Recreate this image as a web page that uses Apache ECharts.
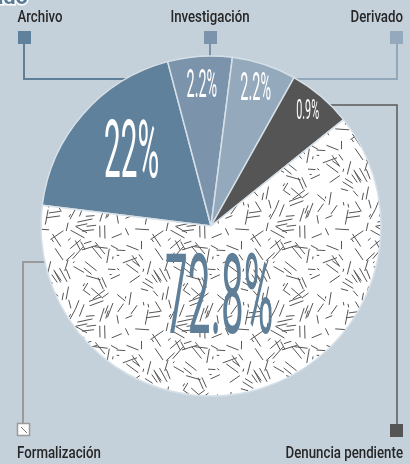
<!DOCTYPE html>
<html>
<head>
<meta charset="utf-8">
<script src="https://cdn.jsdelivr.net/npm/echarts@6/dist/echarts.min.js"></script>
<style>
html,body{margin:0;padding:0;background:#c4d0da;}
#chart{width:410px;height:464px;}
</style>
</head>
<body>
<div id="chart"></div>
<script>
// ---- data ----
const categories = ['Archivo', 'Investigación', 'Derivado', 'Denuncia pendiente', 'Formalización'];
const values = [22, 2.2, 2.2, 0.9, 72.8];
const valueLabels = ['22%', '2.2%', '2.2%', '0.9%', '72.8%'];
const titleText = 'Estado';

// ---- styles ----
const sliceColors = ['#60819b', '#7b94ab', '#95a9bc', '#555555', null];
const labelColors = ['#ffffff', '#ffffff', '#ffffff', '#ffffff', '#5f7f99'];
const labelSizes = [80, 39, 39, 27, 112];
const labelScaleX = [0.37, 0.37, 0.37, 0.4, 0.36];
const labelRadial = [0.62, 0.82, 0.84, 0.88, 0.47];
const labelAngleNudge = [0, 0, 0, 0, 10]; // degrees, clockwise

function makePattern() {
  const S = 100;
  const c = document.createElement('canvas');
  c.width = S; c.height = S;
  const g = c.getContext('2d');
  g.fillStyle = '#ffffff';
  g.fillRect(0, 0, S, S);
  g.strokeStyle = '#555555';
  g.lineWidth = 1;
  g.lineCap = 'butt';
  let seed = 987654;
  const rnd = () => { seed = (seed * 16807) % 2147483647; return seed / 2147483647; };
  const cells = 8;
  const step = S / cells;
  for (let gx = 0; gx < cells; gx++) {
    for (let gy = 0; gy < cells; gy++) {
      const cx = (gx + 0.5 + (rnd() - 0.5) * 0.8) * step;
      const cy = (gy + 0.5 + (rnd() - 0.5) * 0.8) * step;
      const a = rnd() * Math.PI;
      const n = rnd() < 0.5 ? 1 : 2;
      for (let k = 0; k < n; k++) {
        const len = rnd() < 0.15 ? 2 + rnd() * 2 : 7 + rnd() * 9;
        const off = (k - (n - 1) / 2) * 5;
        const ox = -Math.sin(a) * off + Math.cos(a) * (rnd() - 0.5) * 6;
        const oy = Math.cos(a) * off + Math.sin(a) * (rnd() - 0.5) * 6;
        const dx = Math.cos(a) * len / 2, dy = Math.sin(a) * len / 2;
        for (let wx = -S; wx <= S; wx += S) {
          for (let wy = -S; wy <= S; wy += S) {
            g.beginPath();
            g.moveTo(cx + ox - dx + wx, cy + oy - dy + wy);
            g.lineTo(cx + ox + dx + wx, cy + oy + dy + wy);
            g.stroke();
          }
        }
      }
    }
  }
  return c;
}

const chart = echarts.init(document.getElementById('chart'));
const patternCanvas = makePattern();
const CX = 211, CY = 226, R = 170;

chart.setOption({
  backgroundColor: '#c4d0da',
  animation: false,
  series: [{
    type: 'pie',
    center: [CX, CY],
    radius: R,
    startAngle: 173,
    minAngle: 22,
    clockwise: true,
    silent: true,
    z: 2,
    label: { show: false },
    labelLine: { show: false },
    itemStyle: { borderColor: '#d6e0e8', borderWidth: 1.5 },
    data: categories.map((n, i) => ({
      name: n,
      value: values[i],
      itemStyle: { color: sliceColors[i] ? sliceColors[i] : { image: patternCanvas, repeat: 'repeat' } }
    }))
  }]
});

// legend / callout decorations
const legendFont = '500 17px Roboto, "Noto Sans", sans-serif';
const graphics = [
  { type: 'text', x: 28, y: 9, z: 1, style: { text: titleText, font: 'bold 22px Roboto, sans-serif', fill: '#5b7c97', stroke: '#ffffff', lineWidth: 3, align: 'right', textAlign: 'right', verticalAlign: 'bottom', textVerticalAlign: 'bottom' } },
  { type: 'polyline', z: 0, shape: { points: [[24, 44], [24, 79], [170, 79]] }, style: { stroke: '#5f7f99', lineWidth: 2 } },
  { type: 'polyline', z: 0, shape: { points: [[210, 44], [210, 80]] }, style: { stroke: '#7a93aa', lineWidth: 2 } },
  { type: 'polyline', z: 0, shape: { points: [[397, 44], [397, 79], [290, 79]] }, style: { stroke: '#93a7ba', lineWidth: 2 } },
  { type: 'polyline', z: 0, shape: { points: [[397, 424], [397, 105], [320, 105]] }, style: { stroke: '#5a5a5a', lineWidth: 1.5 } },
  { type: 'polyline', z: 0, shape: { points: [[23, 424], [23, 262], [90, 262]] }, style: { stroke: '#9a9a9a', lineWidth: 2 } },
  { type: 'rect', z: 1, shape: { x: 18, y: 31, width: 13, height: 13 }, style: { fill: '#60819b' } },
  { type: 'rect', z: 1, shape: { x: 204, y: 31, width: 13, height: 13 }, style: { fill: '#7b94ab' } },
  { type: 'rect', z: 1, shape: { x: 390, y: 31, width: 13, height: 13 }, style: { fill: '#95a9bc' } },
  { type: 'rect', z: 1, shape: { x: 390, y: 424, width: 13, height: 13 }, style: { fill: '#555555' } },
  { type: 'rect', z: 1, shape: { x: 17.5, y: 423.5, width: 12, height: 12 }, style: { fill: '#ffffff', stroke: '#9a9a9a', lineWidth: 1.5 } },
  { type: 'line', z: 1, shape: { x1: 21, y1: 427, x2: 27, y2: 433 }, style: { stroke: '#777777', lineWidth: 1 } },
  { type: 'text', x: 40, y: 9, scaleX: 0.78, z: 1, style: { text: categories[0], font: legendFont, fill: '#262626', align: 'center', textAlign: 'center', verticalAlign: 'top', textVerticalAlign: 'top' } },
  { type: 'text', x: 210, y: 9, scaleX: 0.78, z: 1, style: { text: categories[1], font: legendFont, fill: '#262626', align: 'center', textAlign: 'center', verticalAlign: 'top', textVerticalAlign: 'top' } },
  { type: 'text', x: 403, y: 9, scaleX: 0.78, z: 1, style: { text: categories[2], font: legendFont, fill: '#262626', align: 'right', textAlign: 'right', verticalAlign: 'top', textVerticalAlign: 'top' } },
  { type: 'text', x: 403, y: 445, scaleX: 0.78, z: 1, style: { text: categories[3], font: legendFont, fill: '#262626', align: 'right', textAlign: 'right', verticalAlign: 'top', textVerticalAlign: 'top' } },
  { type: 'text', x: 17, y: 445, scaleX: 0.78, z: 1, style: { text: categories[4], font: legendFont, fill: '#262626', align: 'left', textAlign: 'left', verticalAlign: 'top', textVerticalAlign: 'top' } }
];

// percentage labels placed from the pie's own layout
let layouts = [];
try {
  const data = chart.getModel().getSeriesByIndex(0).getData();
  for (let i = 0; i < data.count(); i++) layouts.push(data.getItemLayout(i));
} catch (e) { layouts = []; }

layouts.forEach((lay, i) => {
  if (!lay) return;
  const mid = (lay.startAngle + lay.endAngle) / 2 + labelAngleNudge[i] * Math.PI / 180;
  const rr = lay.r * labelRadial[i];
  graphics.push({
    type: 'text',
    x: lay.cx + Math.cos(mid) * rr,
    y: lay.cy + Math.sin(mid) * rr,
    scaleX: labelScaleX[i],
    z: 10,
    silent: true,
    style: {
      text: valueLabels[i],
      font: '400 ' + labelSizes[i] + 'px Roboto, sans-serif',
      fill: labelColors[i],
      align: 'center', textAlign: 'center',
      verticalAlign: 'middle', textVerticalAlign: 'middle'
    }
  });
});

chart.setOption({ graphic: graphics });
</script>
</body>
</html>
